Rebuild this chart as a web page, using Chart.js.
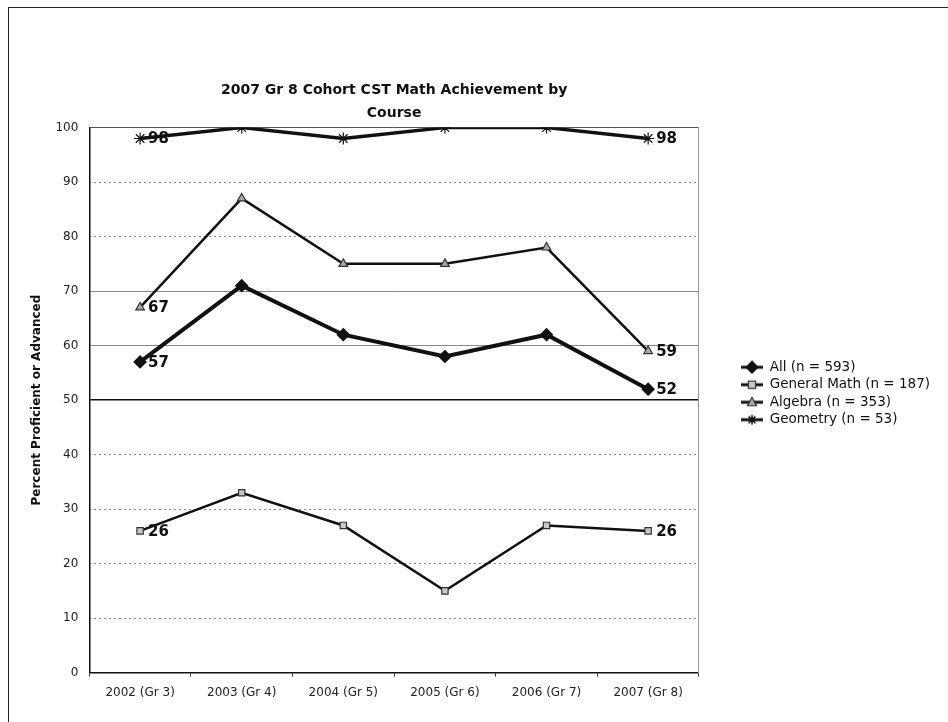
<!DOCTYPE html>
<html>
<head>
<meta charset="utf-8">
<script src="https://cdn.jsdelivr.net/npm/chart.js@4.4.1/dist/chart.umd.min.js"></script>
<style>
  body { margin: 0; background: #fff; }
  #wrap { position: relative; width: 948px; height: 722px; }
  #frame { position: absolute; left: 8px; top: 7px; width: 960px; height: 740px; border-left: 1px solid #222; border-top: 1px solid #222; }
  canvas { position: absolute; left: 0; top: 0; }
</style>
</head>
<body>
<div id="wrap">
  <div id="frame"></div>
  <canvas id="myChart" width="948" height="722"></canvas>
</div>
<script>
//CHART DATA
const categories = ["2002 (Gr 3)", "2003 (Gr 4)", "2004 (Gr 5)", "2005 (Gr 6)", "2006 (Gr 7)", "2007 (Gr 8)"];
const seriesNames = ["All (n = 593)", "General Math (n = 187)", "Algebra (n = 353)", "Geometry (n = 53)"];
const allStudents = [57, 71, 62, 58, 62, 52];
const generalMath = [26, 33, 27, 15, 27, 26];
const algebra = [67, 87, 75, 75, 78, 59];
const geometry = [98, 100, 98, 100, 100, 98];
const yMin = 0, yMax = 100, yStep = 10;
const chartTitle = ["2007 Gr 8 Cohort CST Math Achievement by", "Course"];
const yTitle = "Percent Proficient or Advanced";

const FONT = '"DejaVu Sans", Verdana, sans-serif';

//MARKER STYLE FOR EACH SERIES
const markers = [
  { style: "rectRot", radius: 6, fill: "#111", stroke: "#111", line: 4 },
  { style: "rect", radius: 4.5, fill: "#c8c8c8", stroke: "#333", line: 2.5 },
  { style: "triangle", radius: 5, fill: "#aaa", stroke: "#333", line: 2.5 },
  { style: "star", radius: 6, fill: "#111", stroke: "#111", line: 3.5 },
];

function drawMarker(ctx, m, x, y) {
  //SMALL MARKER FOR THE LEGEND SWATCH
  const r = m.radius;
  ctx.fillStyle = m.fill;
  ctx.strokeStyle = m.stroke;
  ctx.lineWidth = 1.2;
  ctx.beginPath();
  if (m.style === "rectRot") {
    ctx.moveTo(x, y - r); ctx.lineTo(x + r, y); ctx.lineTo(x, y + r); ctx.lineTo(x - r, y); ctx.closePath();
    ctx.fill(); ctx.stroke();
  } else if (m.style === "rect") {
    const s = r * 0.8;
    ctx.rect(x - s, y - s, 2 * s, 2 * s);
    ctx.fill(); ctx.stroke();
  } else if (m.style === "triangle") {
    ctx.moveTo(x, y - r); ctx.lineTo(x + r * 0.9, y + r * 0.7); ctx.lineTo(x - r * 0.9, y + r * 0.7); ctx.closePath();
    ctx.fill(); ctx.stroke();
  } else {
    for (let a = 0; a < 4; a++) {
      const ang = (a * Math.PI) / 4;
      ctx.moveTo(x - Math.cos(ang) * r * 0.8, y - Math.sin(ang) * r * 0.8);
      ctx.lineTo(x + Math.cos(ang) * r * 0.8, y + Math.sin(ang) * r * 0.8);
    }
    ctx.lineWidth = 1.5;
    ctx.stroke();
  }
}

function makeSwatch(m) {
  const c = document.createElement("canvas");
  c.width = 22; c.height = 14;
  const ctx = c.getContext("2d");
  ctx.strokeStyle = "#111";
  ctx.lineWidth = 3;
  ctx.beginPath(); ctx.moveTo(0, 7); ctx.lineTo(22, 7); ctx.stroke();
  drawMarker(ctx, m, 11, 7);
  return c;
}

//VALUE LABELS AT THE FIRST AND LAST POINT OF EVERY LINE
const endLabels = {
  id: "endLabels",
  afterDatasetsDraw(chart) {
    const ctx = chart.ctx;
    ctx.save();
    ctx.font = "bold 15px " + FONT;
    ctx.fillStyle = "#111";
    ctx.textBaseline = "middle";
    chart.data.datasets.forEach((ds, i) => {
      const meta = chart.getDatasetMeta(i);
      [0, ds.data.length - 1].forEach((j) => {
        const pt = meta.data[j];
        ctx.fillText(ds.data[j], pt.x + 8, pt.y + 1);
      });
    });
    ctx.restore();
  },
};

const seriesValues = [allStudents, generalMath, algebra, geometry];
const datasets = seriesValues.map((vals, i) => ({
  label: seriesNames[i],
  data: vals,
  borderColor: "#111",
  borderWidth: markers[i].line,
  pointStyle: markers[i].style,
  pointRadius: markers[i].radius,
  pointBackgroundColor: markers[i].fill,
  pointBorderColor: markers[i].stroke,
  pointBorderWidth: 1.2,
  tension: 0,
  fill: false,
}));

const solidLines = [50, 60, 70];

const config = {
  type: "line",
  data: { labels: categories, datasets: datasets },
  plugins: [endLabels],
  options: {
    responsive: false,
    animation: false,
    layout: { padding: { left: 27, right: 8, top: 78, bottom: 13 } },
    plugins: {
      title: {
        display: true,
        text: chartTitle,
        fullSize: false,
        color: "#111",
        font: { family: FONT, size: 14, weight: "bold", lineHeight: 1.7 },
        padding: { top: 0, bottom: 2 },
      },
      legend: {
        position: "right",
        maxWidth: 320,
        labels: {
          usePointStyle: true,
          pointStyleWidth: 22,
          padding: 4,
          color: "#111",
          font: { family: FONT, size: 13.5 },
          generateLabels: (chart) =>
            chart.data.datasets.map((ds, i) => ({
              text: ds.label,
              pointStyle: makeSwatch(markers[i]),
              fillStyle: "#111",
              strokeStyle: "#111",
              lineWidth: 0,
              fontColor: "#111",
              hidden: false,
              datasetIndex: i,
            })),
        },
      },
      tooltip: { enabled: false },
    },
    scales: {
      x: {
        offset: true,
        grid: { display: true, drawOnChartArea: false, drawTicks: true, tickLength: 4, offset: true, color: "#333" },
        border: { color: "#111", width: 1.5 },
        ticks: { color: "#222", padding: 9, maxRotation: 0, autoSkip: false, font: { family: FONT, size: 12 } },
      },
      y: {
        min: yMin,
        max: yMax,
        border: { color: "#111", width: 1.5 },
        grid: {
          drawTicks: false,
          color: (c) => (c.tick.value === 50 ? "#111" : solidLines.includes(c.tick.value) ? "#888" : c.tick.value === 100 ? "#555" : "rgba(0,0,0,0)"),
          lineWidth: (c) => (c.tick.value === 50 ? 1.5 : 1),
        },
        ticks: { stepSize: yStep, padding: 11, color: "#222", font: { family: FONT, size: 12 } },
        title: {
          display: true,
          text: yTitle,
          color: "#111",
          padding: { top: 3, bottom: 0 },
          font: { family: FONT, size: 12, weight: "bold" },
        },
      },
      yDot: {
        position: "left",
        min: yMin,
        max: yMax,
        afterFit: (s) => { s.width = 0; },
        border: { display: false, dash: [2, 3] },
        grid: {
          drawTicks: false,
          color: (c) => (solidLines.includes(c.tick.value) || c.tick.value === 0 || c.tick.value === 100 ? "rgba(0,0,0,0)" : "#888"),
        },
        ticks: { display: false, stepSize: yStep },
      },
      yR: {
        position: "right",
        min: yMin,
        max: yMax,
        afterFit: (s) => { s.width = 38; },
        border: { display: true, color: "#999", width: 1 },
        grid: { display: false },
        ticks: { display: false },
      },
    },
  },
};

const myChart = document.getElementById("myChart");
new Chart(myChart, config);
</script>
</body>
</html>
